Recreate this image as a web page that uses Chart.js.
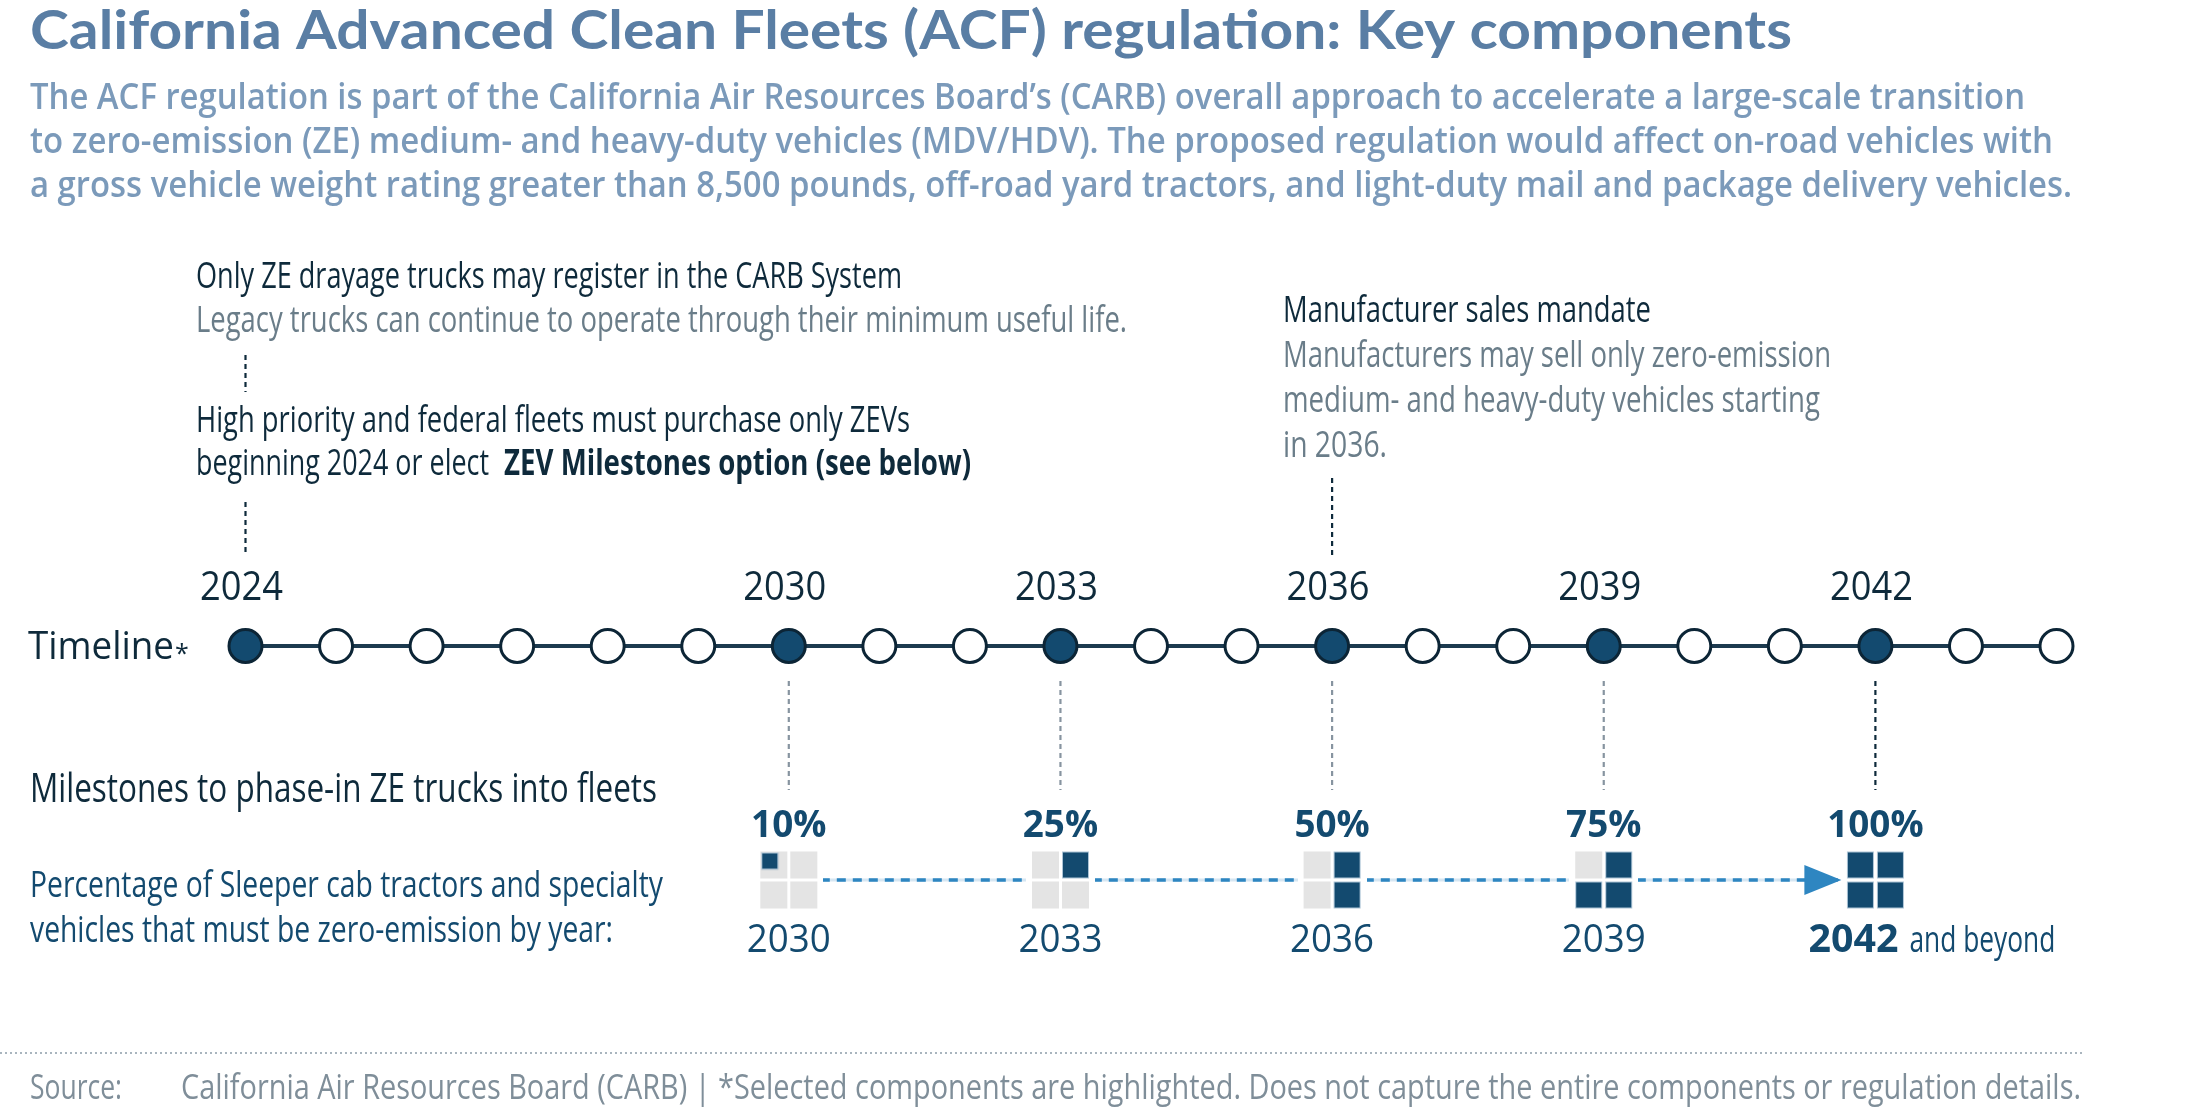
<!DOCTYPE html>
<html><head><meta charset="utf-8">
<script src="https://cdn.jsdelivr.net/npm/chart.js@4.4.0/dist/chart.umd.min.js"></script>
<style>html,body{margin:0;padding:0;background:#fff;overflow:hidden}canvas{display:block}</style>
</head><body>
<canvas id="c" width="2211" height="1114"></canvas>
<script>
// ---------------- data ----------------
const timelineYears = [2024,2025,2026,2027,2028,2029,2030,2031,2032,2033,2034,2035,2036,2037,2038,2039,2040,2041,2042,2043,2044];
const keyYears = [2024,2030,2033,2036,2039,2042];
const milestoneYears = [2030,2033,2036,2039,2042];
const milestonePct = [10,25,50,75,100];
const milestoneYearLabels = ['2030','2033','2036','2039','2042'];

const titleText = 'California Advanced Clean Fleets (ACF) regulation: Key components';
const subtitleLines = [
  'The ACF regulation is part of the California Air Resources Board\u2019s (CARB) overall approach to accelerate a large-scale transition',
  'to zero-emission (ZE) medium- and heavy-duty vehicles (MDV/HDV). The proposed regulation would affect on-road vehicles with',
  'a gross vehicle weight rating greater than 8,500 pounds, off-road yard tractors, and light-duty mail and package delivery vehicles.'
];
const note2024a = ['Only ZE drayage trucks may register in the CARB System', 'Legacy trucks can continue to operate through their minimum useful life.'];
const note2024b = ['High priority and federal fleets must purchase only ZEVs', 'beginning 2024 or elect ', 'ZEV Milestones option (see below)'];
const note2036 = ['Manufacturer sales mandate', 'Manufacturers may sell only zero-emission', 'medium- and heavy-duty vehicles starting', 'in 2036.'];
const milestoneHeading = 'Milestones to phase-in ZE trucks into fleets';
const milestoneDesc = ['Percentage of Sleeper cab tractors and specialty', 'vehicles that must be zero-emission by year:'];
const lastSuffix = ' and beyond';
const sourceLabel = 'Source:';
const sourceText = 'California Air Resources Board (CARB) | *Selected components are highlighted. Does not capture the entire components or regulation details.';

// ---------------- styles ----------------
const NAVY = '#134a6f', DARK = '#0e2a3b', GRAY = '#6a7d89', LINEBLUE = '#2e86c1';

function txt(ctx, s, x, y, o) {
  ctx.save();
  ctx.font = (o.weight || 400) + ' ' + o.size + 'px ' + (o.family || '"Open Sans"');
  ctx.fillStyle = o.color || DARK;
  ctx.textBaseline = 'alphabetic';
  ctx.textAlign = 'left';
  const m = ctx.measureText(s).width;
  const sx = o.w ? o.w / m : (o.sx || 1);
  const wd = m * sx;
  let x0 = x;
  if (o.align === 'center') x0 = x - wd / 2;
  else if (o.align === 'right') x0 = x - wd;
  ctx.translate(x0, y);
  ctx.scale(sx, 1);
  ctx.fillText(s, 0, 0);
  ctx.restore();
  return wd;
}

function vDash(ctx, x, y1, y2, color) {
  ctx.save();
  ctx.strokeStyle = color; ctx.lineWidth = 2.2; ctx.setLineDash([5, 4]);
  ctx.beginPath(); ctx.moveTo(x, y1); ctx.lineTo(x, y2); ctx.stroke();
  ctx.restore();
}

// grid icon (2x2) reflecting a percentage
function gridCanvas(pct) {
  const cell = 27, gap = 3, pad = 6, size = 2 * cell + gap + 2 * pad;
  const c = document.createElement('canvas');
  c.width = size; c.height = size;
  const g = c.getContext('2d');
  g.fillStyle = '#fff'; g.fillRect(0, 0, size, size);
  const pos = { TL: [0, 0], TR: [1, 0], BL: [0, 1], BR: [1, 1] };
  const order = ['TR', 'BR', 'BL', 'TL'];
  const full = Math.floor(pct / 25);
  const rem = (pct - full * 25) / 25;
  const cellXY = k => [pad + pos[k][0] * (cell + gap), pad + pos[k][1] * (cell + gap)];
  Object.keys(pos).forEach(k => {
    const [x, y] = cellXY(k);
    g.fillStyle = '#e4e4e4'; g.fillRect(x, y, cell, cell);
  });
  for (let i = 0; i < full; i++) {
    const [x, y] = cellXY(order[i]);
    g.fillStyle = NAVY; g.fillRect(x, y, cell, cell);
    g.strokeStyle = 'rgba(190,210,225,0.9)'; g.lineWidth = 1; g.strokeRect(x + 0.5, y + 0.5, cell - 1, cell - 1);
  }
  if (rem > 0) {
    const [x, y] = cellXY('TL');
    const s = cell * Math.sqrt(rem);
    g.fillStyle = NAVY; g.fillRect(x + 1, y + 1, s, s);
    g.strokeStyle = 'rgba(190,210,225,0.9)'; g.lineWidth = 1; g.strokeRect(x + 1.5, y + 1.5, s - 1, s - 1);
  }
  return c;
}
const gridImgs = milestonePct.map(gridCanvas);

const annotations = {
  id: 'annotations',
  beforeDatasetsDraw(chart) {
    const ctx = chart.ctx, xs = chart.scales.x, ys = chart.scales.y;
    const X = v => xs.getPixelForValue(v);
    // upper connectors
    vDash(ctx, X(2024), 355, 392, DARK);
    vDash(ctx, X(2024), 502, 555, DARK);
    vDash(ctx, X(2036), 478, 555, DARK);
    // lower connectors from timeline to milestones
    milestoneYears.forEach((y, i) => {
      vDash(ctx, X(y), 681, 790, i === milestoneYears.length - 1 ? DARK : '#8794a0');
    });
    // faint guide behind dashed milestone line
    const yRow = ys.getPixelForValue(0);
    ctx.save();
    ctx.strokeStyle = '#d6e6f2'; ctx.lineWidth = 3;
    ctx.beginPath(); ctx.moveTo(X(milestoneYears[0]), yRow); ctx.lineTo(X(milestoneYears[milestoneYears.length - 1]) - 40, yRow); ctx.stroke();
    ctx.restore();
  },
  afterDatasetsDraw(chart) {
    const ctx = chart.ctx, xs = chart.scales.x, ys = chart.scales.y;
    const X = v => xs.getPixelForValue(v);
    const yRow = ys.getPixelForValue(0);
    // arrow head before the last milestone
    const tip = X(milestoneYears[milestoneYears.length - 1]) - 34;
    ctx.save();
    ctx.fillStyle = LINEBLUE;
    ctx.beginPath(); ctx.moveTo(tip, yRow); ctx.lineTo(tip - 37, yRow - 15); ctx.lineTo(tip - 37, yRow + 15); ctx.closePath(); ctx.fill();
    ctx.restore();

    // title + subtitle
    txt(ctx, titleText, 30, 49, { size: 54, weight: 700, family: 'Lato', color: '#5a7ea4', w: 1762 });
    const subW = [1995, 2023, 2042], subY = [109, 153, 197];
    subtitleLines.forEach((s, i) => txt(ctx, s, 30, subY[i], { size: 36, weight: 600, color: '#7b9aba', w: subW[i] }));

    // notes
    const NS = 36;
    txt(ctx, note2024a[0], 196, 288, { size: NS, color: DARK, w: 706 });
    txt(ctx, note2024a[1], 196, 332, { size: NS, color: GRAY, w: 931 });
    txt(ctx, note2024b[0], 196, 432, { size: NS, color: DARK, w: 714 });
    txt(ctx, note2024b[1], 196, 475, { size: NS, color: DARK, w: 300 });
    txt(ctx, note2024b[2], 504, 475, { size: NS, weight: 700, color: DARK, w: 467 });
    txt(ctx, note2036[0], 1283, 322, { size: NS, color: DARK, w: 368 });
    txt(ctx, note2036[1], 1283, 367, { size: NS, color: GRAY, w: 548 });
    txt(ctx, note2036[2], 1283, 412, { size: NS, color: GRAY, w: 537 });
    txt(ctx, note2036[3], 1283, 457, { size: NS, color: GRAY, w: 104 });

    // key year labels above the timeline
    keyYears.forEach(y => txt(ctx, String(y), X(y) - 4, 600, { size: 41, color: DARK, w: 83, align: 'center' }));
    // Timeline label
    txt(ctx, 'Timeline', 28, 659, { size: 39, color: DARK, w: 146 });
    txt(ctx, '*', 175, 662, { size: 25, color: DARK });

    // milestone texts
    txt(ctx, milestoneHeading, 30, 802, { size: 41, weight: 500, color: DARK, w: 627 });
    txt(ctx, milestoneDesc[0], 30, 897, { size: 37, color: NAVY, w: 633 });
    txt(ctx, milestoneDesc[1], 30, 942, { size: 37, color: NAVY, w: 583 });

    milestoneYears.forEach((y, i) => {
      txt(ctx, milestonePct[i] + '%', X(y), 837, { size: 38, weight: 700, color: NAVY, sx: 0.97, align: 'center' });
      if (i < milestoneYears.length - 1) {
        txt(ctx, milestoneYearLabels[i], X(y), 952, { size: 39, color: NAVY, w: 84, align: 'center' });
      } else {
        const x0 = X(y) - 67;
        txt(ctx, milestoneYearLabels[i], x0, 952, { size: 39, weight: 700, color: NAVY, w: 90 });
        txt(ctx, lastSuffix.trim(), x0 + 101, 952, { size: 37, color: NAVY, w: 146 });
      }
    });

    // footer
    ctx.save();
    ctx.strokeStyle = '#a9b5be'; ctx.lineWidth = 2; ctx.setLineDash([2, 3]);
    ctx.beginPath(); ctx.moveTo(0, 1053); ctx.lineTo(2084, 1053); ctx.stroke();
    ctx.restore();
    txt(ctx, sourceLabel, 30, 1099, { size: 35, color: '#7f8e99', w: 92 });
    txt(ctx, sourceText, 181, 1099, { size: 35, color: '#7f8e99', w: 1900 });
  }
};

const chart = new Chart(document.getElementById('c'), {
  type: 'scatter',
  data: {
    datasets: [
      {
        label: 'Timeline',
        data: timelineYears.map(y => ({ x: y, y: 1 })),
        showLine: true,
        borderColor: '#1c3a4f',
        borderWidth: 4,
        pointRadius: 16.5,
        pointBorderWidth: 3,
        pointBorderColor: '#0c2536',
        pointBackgroundColor: ctx => keyYears.includes(timelineYears[ctx.dataIndex]) ? NAVY : '#ffffff',
        clip: false
      },
      {
        label: 'Milestones',
        data: milestoneYears.map(y => ({ x: y, y: 0 })),
        showLine: true,
        borderColor: LINEBLUE,
        borderWidth: 3.5,
        borderDash: [9, 7],
        pointRadius: 30,
        pointStyle: ctx => gridImgs[ctx.dataIndex],
        clip: false
      }
    ]
  },
  options: {
    responsive: false,
    animation: false,
    events: [],
    layout: { padding: { left: 245.5, right: 154.5, top: 646, bottom: 234 } },
    scales: {
      x: { type: 'linear', min: 2024, max: 2044, display: false },
      y: { type: 'linear', min: 0, max: 1, display: false }
    },
    plugins: { legend: { display: false }, tooltip: { enabled: false }, title: { display: false } }
  },
  plugins: [annotations]
});
</script>
</body></html>
